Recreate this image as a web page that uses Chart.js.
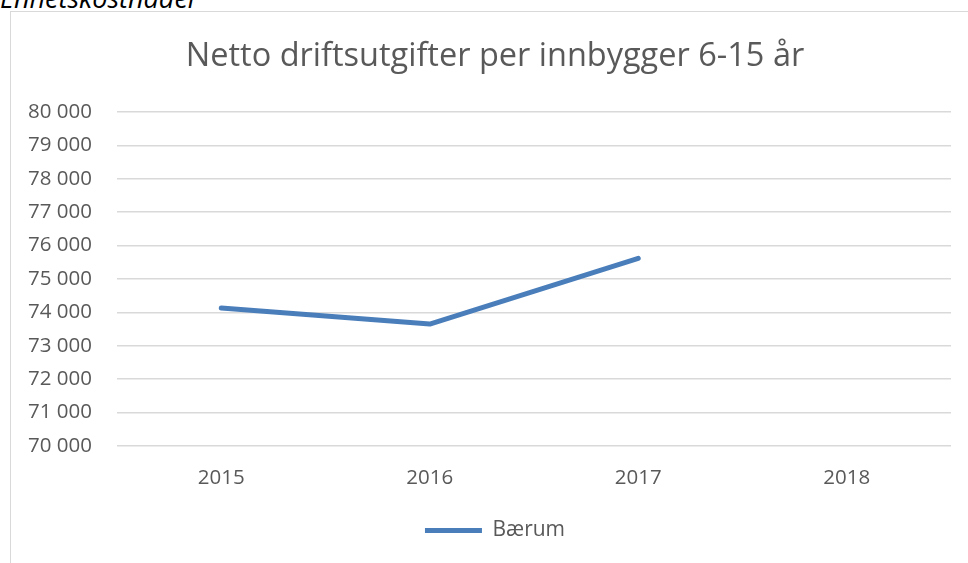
<!DOCTYPE html>
<html>
<head>
<meta charset="utf-8">
<script src="https://cdn.jsdelivr.net/npm/chart.js@4/dist/chart.umd.min.js"></script>
<style>
  body { margin: 0; background: #fff; width: 968px; height: 563px; overflow: hidden; position: relative; font-family: "Open Sans", sans-serif; }
  #heading { position: absolute; left: 0; top: -16px; font-size: 27px; line-height: 27px; font-style: italic; color: #000; white-space: nowrap; }
  #box { position: absolute; left: 10px; top: 11px; width: 1000px; height: 600px; border-left: 1px solid #d9d9d9; border-top: 1px solid #d9d9d9; }
  #chart { position: absolute; left: 0; top: 0; }
</style>
</head>
<body>
<div id="heading">Enhetskostnader</div>
<div id="box"><canvas id="chart" width="985" height="551"></canvas></div>
<script>
// data
const years = ['2015', '2016', '2017', '2018'];
const baerum = [74130, 73650, 75620, null];
const yMin = 70000, yMax = 80000, yStep = 1000;

const grey = '#595959';

function fmt(v) {
  // norwegian style thousands with a space
  return String(v).replace(/\B(?=(\d{3})+(?!\d))/g, ' ');
}

const ctx = document.getElementById('chart').getContext('2d');
new Chart(ctx, {
  type: 'line',
  data: {
    labels: years,
    datasets: [{
      label: 'Bærum',
      data: baerum,
      borderColor: '#4a7ebb',
      backgroundColor: '#4a7ebb',
      borderWidth: 5,
      borderCapStyle: 'round',
      borderJoinStyle: 'round',
      pointRadius: 0,
      pointStyle: 'line',
      tension: 0,
      spanGaps: false
    }]
  },
  options: {
    responsive: false,
    animation: false,
    layout: { padding: { left: 0, right: 17, top: 0, bottom: 12 } },
    plugins: {
      title: {
        display: true,
        text: 'Netto driftsutgifter per innbygger 6-15 år',
        color: grey,
        font: { family: 'Open Sans', size: 32.5, weight: 'normal' },
        padding: { top: 25, bottom: 36 }
      },
      legend: {
        position: 'bottom',
        labels: {
          usePointStyle: true,
          pointStyleWidth: 57,
          color: grey,
          font: { family: 'Open Sans', size: 21 },
          padding: 10
        }
      },
      tooltip: { enabled: false }
    },
    scales: {
      x: {
        offset: true,
        grid: { display: false, drawTicks: false },
        border: { display: false },
        ticks: { color: grey, font: { family: 'Open Sans', size: 20.5 }, padding: 20 },
        afterFit: function (scale) { scale.height = 64; }
      },
      y: {
        min: yMin,
        max: yMax,
        grid: { color: '#d9d9d9', lineWidth: 1.5, drawTicks: false },
        border: { display: false },
        ticks: {
          stepSize: yStep,
          color: grey,
          font: { family: 'Open Sans', size: 20.5 },
          padding: 25,
          callback: function (v) { return fmt(v); }
        },
        afterFit: function (scale) { scale.width = 106; }
      },
      // empty spacer on the right so title and legend sit where they do in the picture
      yRight: {
        position: 'right',
        grid: { display: false, drawTicks: false },
        border: { display: false },
        ticks: { display: false },
        afterFit: function (scale) { scale.width = 28; }
      }
    }
  }
});
</script>
</body>
</html>
